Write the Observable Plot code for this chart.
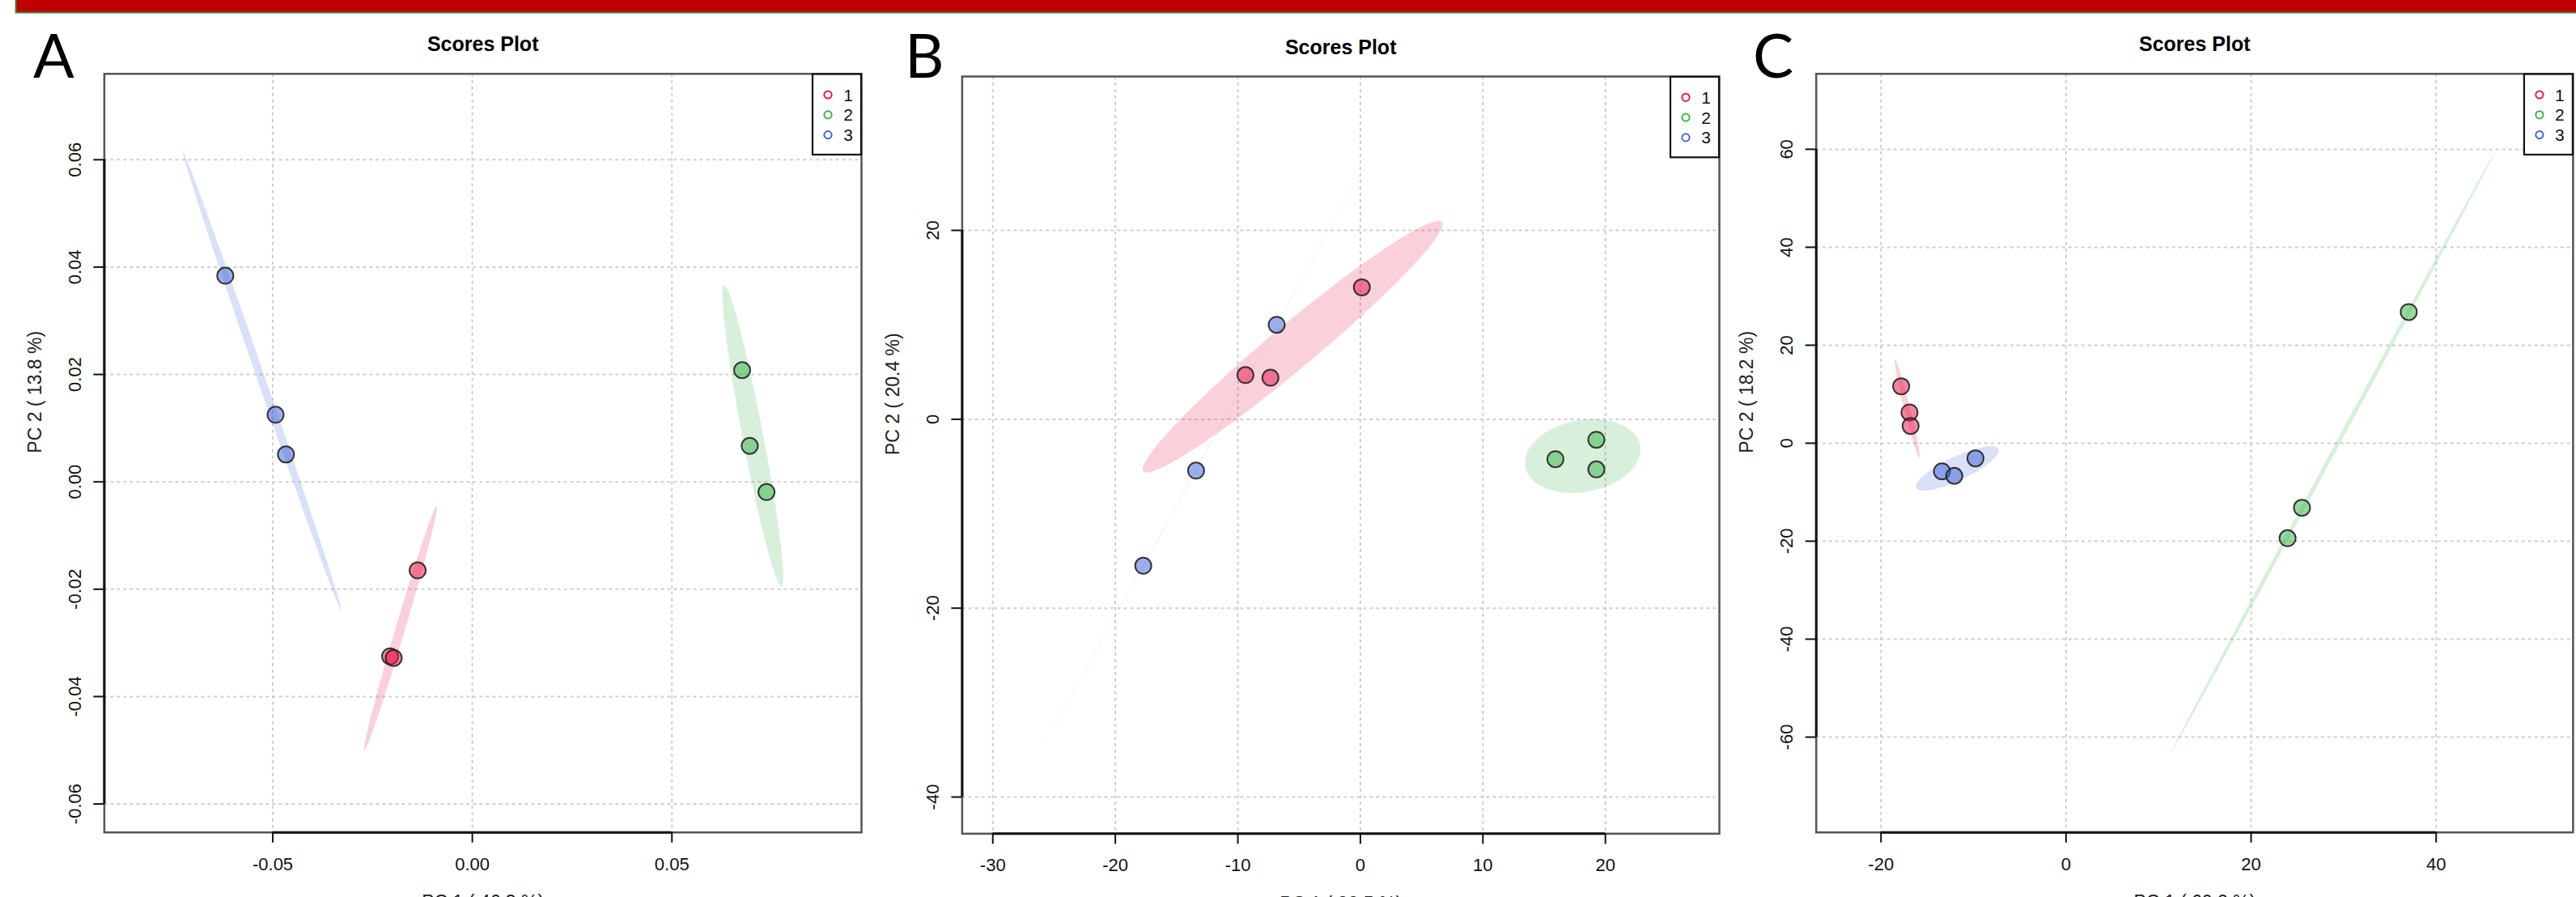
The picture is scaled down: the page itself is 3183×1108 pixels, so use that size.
<!DOCTYPE html>
<html><head><meta charset="utf-8">
<script src="https://cdn.jsdelivr.net/npm/d3@7"></script>
<script src="https://cdn.jsdelivr.net/npm/@observablehq/plot@0.6"></script>
<style>
html,body{margin:0;padding:0;background:#fff;width:3183px;height:1108px;overflow:hidden;}
#page{position:relative;width:3183px;height:1108px;overflow:hidden;}
.panel{position:absolute;top:0;}
#overlay{position:absolute;left:0;top:0;pointer-events:none;}
</style></head><body><div id="page"></div>
<script>
// ---------- shared ----------
const groupLabels = ["1", "2", "3"];
const groupColors = ["#e6194B", "#3cb44b", "#4363d8"];
const plotTitle = "Scores Plot";

// ---------- Panel A ----------
const aGroup = [1, 1, 1, 2, 2, 2, 3, 3, 3];
const aPC1 = [-0.0137, -0.0206, -0.0197, 0.0676, 0.0695, 0.0737, -0.0619, -0.0493, -0.0467];
const aPC2 = [-0.0165, -0.0325, -0.0328, 0.0208, 0.0067, -0.0019, 0.0384, 0.0125, 0.0051];
const aXTicks = [-0.05, 0, 0.05];
const aYTicks = [-0.06, -0.04, -0.02, 0, 0.02, 0.04, 0.06];
const aXDomain = [-0.0922, 0.0975];
const aYDomain = [-0.0653, 0.0760];
const aYLabel = "PC 2 ( 13.8 %)";
const aXLabel = "PC 1 ( 46.3 %)";

// ---------- Panel B ----------
const bGroup = [1, 1, 1, 2, 2, 2, 3, 3, 3];
const bPC1 = [0.12, -9.38, -7.34, 19.26, 15.92, 19.26, -6.83, -13.41, -17.72];
const bPC2 = [13.97, 4.68, 4.40, -2.17, -4.23, -5.31, 10.0, -5.44, -15.51];
const bXTicks = [-30, -20, -10, 0, 10, 20];
const bYTicks = [-40, -20, 0, 20];
const bXDomain = [-32.5, 29.3];
const bYDomain = [-43.88, 36.29];
const bYLabel = "PC 2 ( 20.4 %)";
const bXLabel = "PC 1 ( 38.5 %)";

// ---------- Panel C ----------
const cGroup = [1, 1, 1, 2, 2, 2, 3, 3, 3];
const cPC1 = [-17.82, -16.92, -16.80, 37.04, 25.50, 23.94, -13.41, -12.08, -9.79];
const cPC2 = [11.62, 6.28, 3.52, 26.78, -13.17, -19.39, -5.74, -6.66, -3.09];
const cXTicks = [-20, 0, 20, 40];
const cYTicks = [-60, -40, -20, 0, 20, 40, 60];
const cXDomain = [-27.0, 54.8];
const cYDomain = [-79.45, 75.4];
const cYLabel = "PC 2 ( 18.2 %)";
const cXLabel = "PC 1 ( 60.2 %)";

// ---------- layout ----------
const FONT = "'Liberation Sans', Arial, Helvetica, sans-serif";
const panels = [
  {letter: "A", group: aGroup, pc1: aPC1, pc2: aPC2, xTicks: aXTicks, yTicks: aYTicks, xDomain: aXDomain, yDomain: aYDomain,
   yLabel: aYLabel, xLabel: aXLabel, fmtX: d => d.toFixed(2), fmtY: d => d.toFixed(2),
   left: 0, width: 1080, mL: 128.4, mR: 16, mT: 90.7, mB: 80.3, letterX: 41},
  {letter: "B", group: bGroup, pc1: bPC1, pc2: bPC2, xTicks: bXTicks, yTicks: bYTicks, xDomain: bXDomain, yDomain: bYDomain,
   yLabel: bYLabel, xLabel: bXLabel, fmtX: d => String(d), fmtY: d => String(d),
   left: 1080, width: 1054, mL: 108.4, mR: 10, mT: 94, mB: 78.7, letterX: 1118},
  {letter: "C", group: cGroup, pc1: cPC1, pc2: cPC2, xTicks: cXTicks, yTicks: cYTicks, xDomain: cXDomain, yDomain: cYDomain,
   yLabel: cYLabel, xLabel: cXLabel, fmtX: d => String(d), fmtY: d => String(d),
   left: 2134, width: 1049, mL: 109.7, mR: 4.1, mT: 90.7, mB: 80.3, letterX: 2166}
];
const H = 1108;

// 95% confidence ellipse (as ellipse::ellipse in R)
function ellipse(xs, ys, level = 0.95, n = 100) {
  const mx = d3.mean(xs), my = d3.mean(ys);
  const sx = d3.deviation(xs), sy = d3.deviation(ys);
  const cov = d3.sum(xs.map((x, i) => (x - mx) * (ys[i] - my))) / (xs.length - 1);
  const r = Math.max(-1, Math.min(1, cov / (sx * sy)));
  const d = Math.acos(r);
  const t = Math.sqrt(-2 * Math.log(1 - level));
  return d3.range(n).map(i => {
    const a = 2 * Math.PI * i / (n - 1);
    return {x: mx + t * sx * Math.cos(a + d / 2), y: my + t * sy * Math.cos(a - d / 2)};
  });
}

const page = document.getElementById("page");

panels.forEach(p => {
  const pts = p.pc1.map((x, i) => ({x, y: p.pc2[i], g: p.group[i]}));
  const ells = groupLabels.map((g, gi) => {
    const sel = pts.filter(d => d.g === gi + 1);
    return ellipse(sel.map(d => d.x), sel.map(d => d.y));
  });
  const gridStyle = {stroke: "#cfcfcf", strokeOpacity: 1, strokeWidth: 2, strokeDasharray: "4,4"};
  const chart = Plot.plot({
    width: p.width, height: H,
    marginLeft: p.mL, marginRight: p.mR, marginTop: p.mT, marginBottom: p.mB,
    x: {domain: p.xDomain},
    y: {domain: p.yDomain},
    color: {type: "identity"},
    style: {fontFamily: FONT, background: "transparent", color: "#111", overflow: "visible"},
    marks: [
      Plot.gridX(p.xTicks, gridStyle),
      Plot.gridY(p.yTicks, gridStyle),
      ...ells.map((e, gi) => Plot.line(e, {x: "x", y: "y", fill: groupColors[gi], fillOpacity: 0.2, stroke: "none"})),
      Plot.frame({stroke: "#555", strokeWidth: 2.5}),
      Plot.ruleY([p.yDomain[0]], {x1: p.xTicks[0], x2: p.xTicks[p.xTicks.length - 1], stroke: "#111", strokeWidth: 3}),
      Plot.ruleX([p.xDomain[0]], {y1: p.yTicks[0], y2: p.yTicks[p.yTicks.length - 1], stroke: "#111", strokeWidth: 3}),
      Plot.axisX({ticks: p.xTicks, tickSize: 13, tickPadding: 18, tickFormat: p.fmtX, fontSize: 22, label: null, strokeWidth: 2, color: "#111"}),
      Plot.axisY({ticks: p.yTicks, tickSize: 13, tickPadding: 16, tickRotate: -90, tickFormat: p.fmtY, fontSize: 22, label: null, strokeWidth: 2, color: "#111"}),
      Plot.dot(pts, {x: "x", y: "y", r: 10, fill: d => groupColors[d.g - 1], fillOpacity: 0.52, stroke: "#222", strokeOpacity: 0.9, strokeWidth: 2}),
      Plot.text([plotTitle], {text: d => d, frameAnchor: "top", dy: -28, lineAnchor: "bottom", fontSize: 25, fontWeight: "bold", fill: "#000"}),
      Plot.text([p.yLabel], {text: d => d, frameAnchor: "left", dx: -78, rotate: -90, lineAnchor: "bottom", fontSize: 23, fill: "#222"}),
      Plot.text([p.xLabel], {text: d => d, frameAnchor: "bottom", dy: 94, lineAnchor: "bottom", fontSize: 23, fill: "#222"})
    ]
  });
  chart.classList.add("panel");
  chart.style.left = p.left + "px";
  page.appendChild(chart);
});

// overlay: banner, panel letters, legends
const ov = d3.select(page).append("svg").attr("id", "overlay").attr("width", 3183).attr("height", H);
ov.append("rect").attr("x", 19.6).attr("y", -4).attr("width", 3200).attr("height", 19.5)
  .attr("fill", "#C00000").attr("stroke", "#4f7d35").attr("stroke-width", 2);

panels.forEach(p => {
  ov.append("text").attr("x", p.letterX).attr("y", 96).text(p.letter)
    .attr("font-family", "Lato, 'Open Sans', sans-serif").attr("font-size", 75).attr("fill", "#000");
  const fr = p.left + p.width - p.mR;   // frame right
  const ft = p.mT;                       // frame top
  const bx = fr - 60, by = ft + 0.8;
  ov.append("rect").attr("x", bx).attr("y", by).attr("width", 60).attr("height", 99.5)
    .attr("fill", "#fff").attr("stroke", "#111").attr("stroke-width", 2.2);
  groupLabels.forEach((g, i) => {
    const cy = by + 25.5 + 24.8 * i;
    ov.append("circle").attr("cx", bx + 19).attr("cy", cy).attr("r", 4.6)
      .attr("fill", "none").attr("stroke", groupColors[i]).attr("stroke-width", 2);
    ov.append("text").attr("x", bx + 44).attr("y", cy + 7.5).attr("text-anchor", "middle").text(g)
      .attr("font-family", FONT).attr("font-size", 21).attr("fill", "#111");
  });
});
</script></body></html>
